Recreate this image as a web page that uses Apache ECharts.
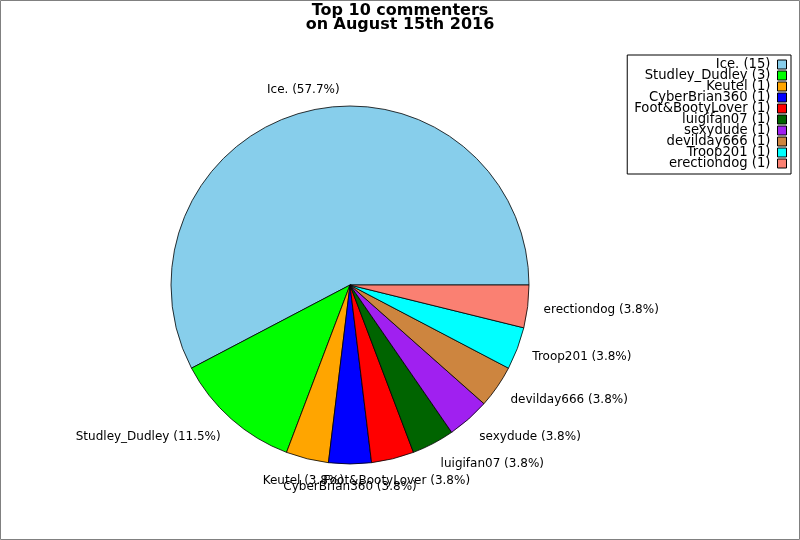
<!DOCTYPE html>
<html>
<head>
<meta charset="utf-8">
<script src="https://cdn.jsdelivr.net/npm/echarts@6/dist/echarts.min.js"></script>
<style>
html,body{margin:0;padding:0;background:#fff;}
#chart{width:800px;height:540px;}
</style>
</head>
<body>
<div id="chart"></div>
<script>
const names = ['Ice.', 'Studley_Dudley', 'Keutel', 'CyberBrian360', 'Foot&BootyLover', 'luigifan07', 'sexydude', 'devilday666', 'Troop201', 'erectiondog'];
const counts = [15, 3, 1, 1, 1, 1, 1, 1, 1, 1];
const colors = ['#87CEEB', '#00FF00', '#FFA500', '#0000FF', '#FF0000', '#006400', '#A020F0', '#CD853F', '#00FFFF', '#FA8072'];
const titleText = 'Top 10 commenters\non August 15th 2016';

const total = counts.reduce((a, b) => a + b, 0);
const CX = 350, CY = 285, R = 179;
const FONT = 'DejaVu Sans';

const chart = echarts.init(document.getElementById('chart'), null, {renderer: 'canvas'});

const option = {
  animation: false,
  backgroundColor: '#fff',
  title: {
    text: titleText,
    left: 'center',
    top: 4,
    padding: 0,
    textStyle: {fontFamily: FONT, fontSize: 16, fontWeight: 'bold', color: '#000', lineHeight: 14}
  },
  legend: {
    orient: 'vertical',
    right: 9,
    top: 55,
    align: 'right',
    icon: 'rect',
    itemWidth: 9,
    itemHeight: 9,
    itemGap: -2,
    padding: [3, 4, 4, 7],
    borderColor: '#000',
    borderWidth: 1,
    backgroundColor: '#fff',
    itemStyle: {borderColor: '#000', borderWidth: 1},
    textStyle: {fontFamily: FONT, fontSize: 13.2, color: '#000', lineHeight: 11, padding: [0, 2, 0, 0]},
    formatter: function (n) {
      const i = names.indexOf(n);
      return n + ' (' + counts[i] + ')';
    },
    data: names
  },
  graphic: [{
    type: 'rect',
    shape: {x: 0.5, y: 0.5, width: 799, height: 539},
    style: {fill: 'none', stroke: '#808080', lineWidth: 1},
    z: 100
  }],
  series: [{
    type: 'pie',
    center: [CX, CY],
    radius: R,
    startAngle: 0,
    clockwise: false,
    avoidLabelOverlap: false,
    emphasis: {disabled: true},
    itemStyle: {borderColor: '#000', borderWidth: 0.8},
    label: {
      show: true,
      position: 'outside',
      distanceToLabelLine: 0,
      fontFamily: FONT,
      fontSize: 12,
      color: '#000',
      formatter: function (p) {
        return p.name + ' (' + (p.value / total * 100).toFixed(1) + '%)';
      }
    },
    labelLine: {show: false, length: 16, length2: 0},
    labelLayout: function (p) {
      const r = p.labelRect;
      let ax;
      if (p.align === 'left') ax = r.x;
      else if (p.align === 'right') ax = r.x + r.width;
      else ax = r.x + r.width / 2;
      const ay = r.y + r.height / 2;
      const dx = ax - CX, dy = ay - CY;
      const d = Math.sqrt(dx * dx + dy * dy) || 1;
      const nearVertical = Math.abs(dx) / d < 0.35;
      return {
        x: ax,
        y: ay + (r.height / 2) * dy / d + (dy > 0 ? 1 : 0),
        align: nearVertical ? 'center' : p.align,
        verticalAlign: 'middle'
      };
    },
    data: names.map((n, i) => ({name: n, value: counts[i], itemStyle: {color: colors[i]}}))
  }]
};
chart.setOption(option);
</script>
</body>
</html>
